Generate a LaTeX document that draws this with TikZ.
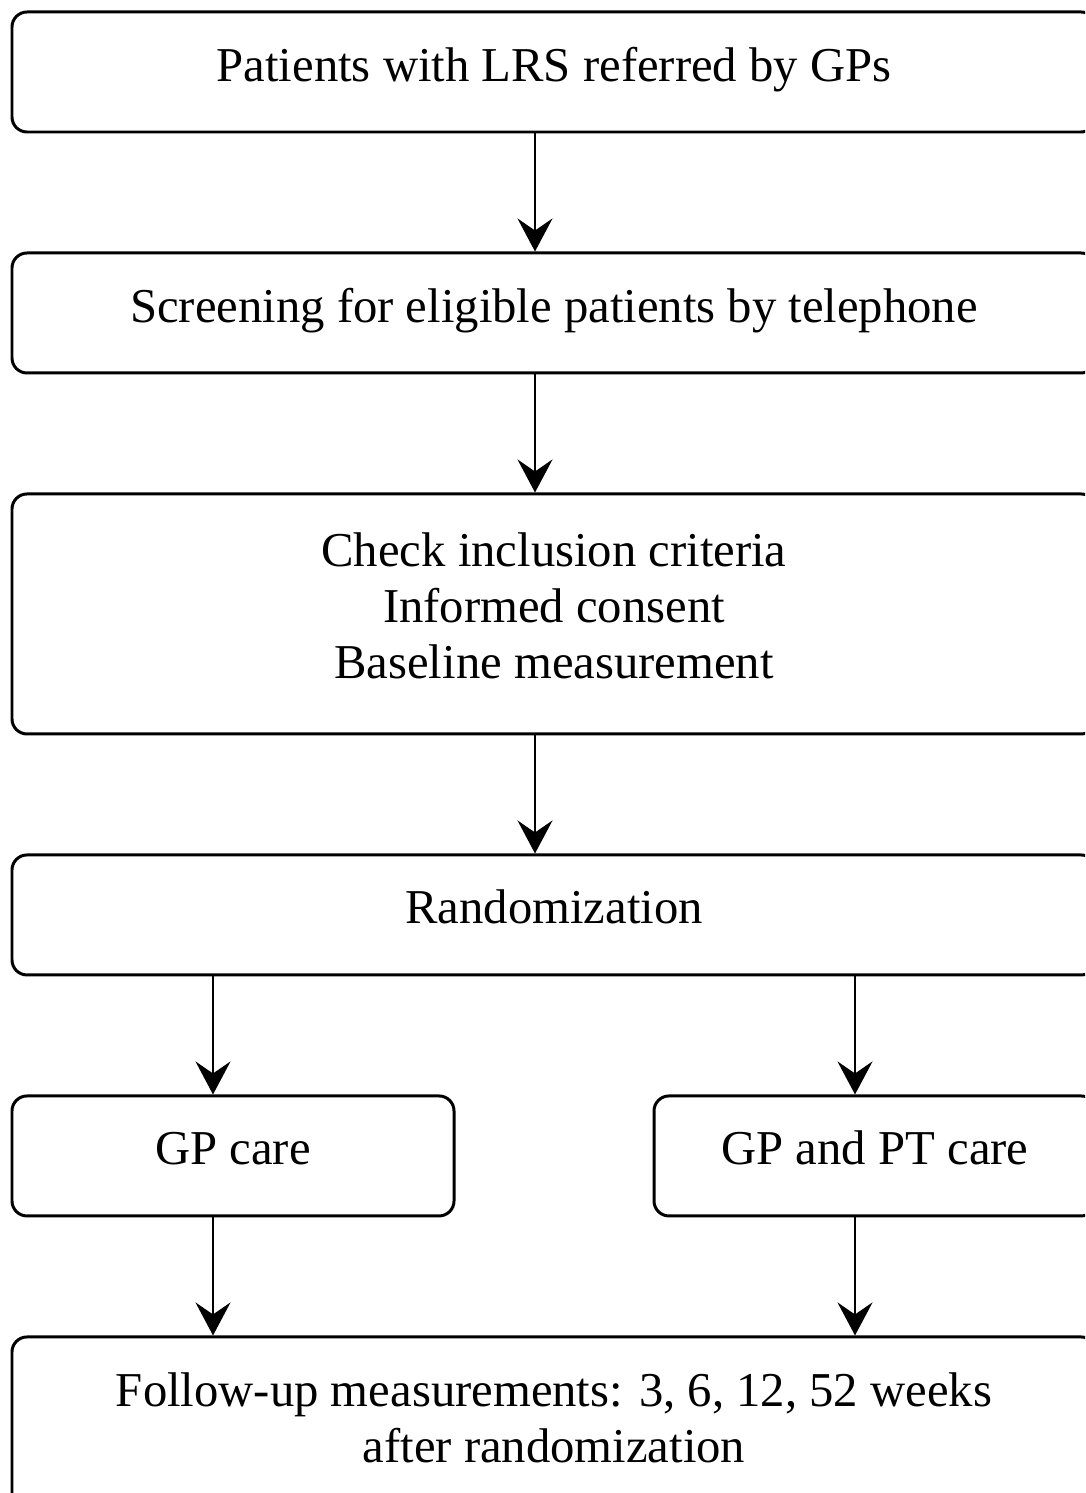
\documentclass[tikz,border=0pt]{standalone}
\usepackage{fontspec}
\setmainfont{Liberation Serif}
\usepackage{tikz}
\usetikzlibrary{calc,positioning,arrows.meta}
\tikzset{
  line/.style={-{Stealth[length=6.6mm,width=7mm,inset=2.4mm]}, line width=1.4pt},
  box/.style={draw, line width=1.7pt, rounded corners=3mm, align=center, inner sep=3pt,
    text depth=3.2mm, font=\fontsize{27.7}{31.8}\selectfont},
  widebox/.style={box, minimum width=216.8mm, minimum height=24mm},
  halfbox/.style={box, minimum width=88.4mm, minimum height=24mm}
}

\begin{document}
\begin{tikzpicture}[node distance=23.6mm]
  \clip (0,0) rectangle (21.7,-29.86);
  \coordinate (axis) at (10.7,0);
  \coordinate (laxis) at (4.26,0);
  \coordinate (raxis) at (17.1,0);
  \node[widebox] (pat) at (11.08,-1.44) {Patients with LRS referred by GPs};
  \node[widebox, below=of pat] (scr) {Screening for eligible patients by telephone};
  \node[widebox, minimum height=48mm, below=of scr] (chk) {Check inclusion criteria\\Informed consent\\Baseline measurement};
  \node[widebox, below=of chk] (rnd) {Randomization};
  \node[halfbox, below=of rnd.south west, anchor=north west] (gp) {GP care};
  \node[halfbox, below=of rnd.south east, anchor=north east] (gppt) {GP and PT care};
  \node[widebox, minimum height=35.6mm, below=of gp.south west, anchor=north west] (fup) {Follow-up measurements: 3, 6, 12, 52 weeks\\after randomization};
  \draw[line] (pat.south -| axis) -- (scr.north -| axis);
  \draw[line] (scr.south -| axis) -- (chk.north -| axis);
  \draw[line] (chk.south -| axis) -- (rnd.north -| axis);
  \draw[line] (rnd.south -| laxis) -- (gp.north -| laxis);
  \draw[line] (rnd.south -| raxis) -- (gppt.north -| raxis);
  \draw[line] (gp.south -| laxis) -- (fup.north -| laxis);
  \draw[line] (gppt.south -| raxis) -- (fup.north -| raxis);
\end{tikzpicture}
\end{document}
